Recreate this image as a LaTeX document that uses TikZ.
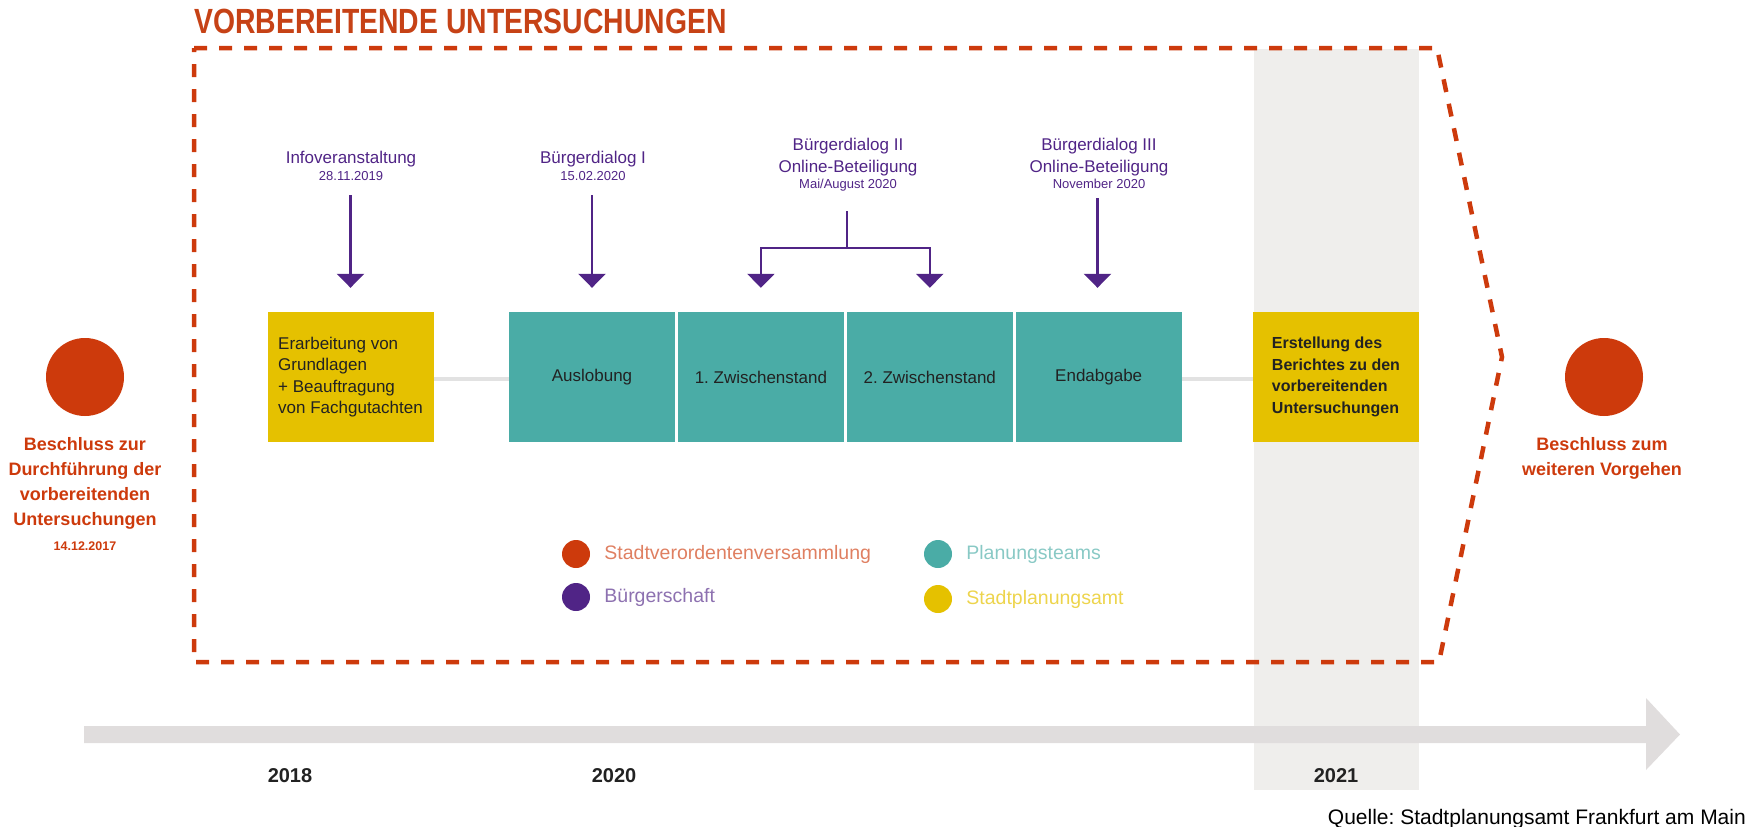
\documentclass[tikz,border=0pt]{standalone}
\usepackage{fontspec}
\setmainfont{Liberation Sans}
\newfontfamily\condfont[FakeStretch=0.81]{Liberation Sans}
\usetikzlibrary{positioning,arrows.meta}
\definecolor{rot}{RGB}{205,58,12}
\definecolor{titel}{RGB}{198,66,22}
\definecolor{lila}{RGB}{80,36,134}
\definecolor{tuerkis}{RGB}{74,172,166}
\definecolor{gelb}{RGB}{229,193,0}
\definecolor{balken}{RGB}{224,221,221}
\definecolor{band}{RGB}{239,238,236}
\definecolor{linie}{RGB}{226,226,226}
\definecolor{ink}{RGB}{34,34,34}
\frenchspacing

\begin{document}
\begin{tikzpicture}[x=1pt,y=-1pt,
  kasten/.style={minimum width=166pt,minimum height=130pt,inner sep=0pt,align=left,text=ink,font=\fontsize{17}{21.5}\selectfont},
  gbox/.style={kasten,fill=gelb},
  tbox/.style={kasten,fill=tuerkis,align=center},
  kreis/.style={circle,fill=rot,minimum size=78pt,inner sep=0pt},
  punkt/.style={circle,minimum size=28pt,inner sep=0pt},
  lab/.style={text=lila,inner sep=0pt,anchor=base,font=\fontsize{17}{20}\selectfont},
  dat/.style={lab,font=\fontsize{13}{15}\selectfont},
  pline/.style={draw=lila,line width=2.5pt},
  parr/.style={pline,-{Triangle[width=27pt,length=14pt]},shorten >=24pt},
  rlab/.style={text=rot,inner sep=0pt,anchor=north,align=center,font=\bfseries\fontsize{18}{25}\selectfont},
  leg/.style={anchor=west,inner sep=0pt,font=\fontsize{19.5}{22}\selectfont},
  jahr/.style={anchor=base,inner sep=0pt,text=ink,font=\bfseries\fontsize{20}{24}\selectfont}]

\useasboundingbox (0,0) rectangle (1746,827);

\fill[band] (1254,49) rectangle (1419,790);
\fill[balken] (84,726) -- (1646,726) -- (1646,698) -- (1680,734.5) -- (1646,770) -- (1646,743) -- (84,743) -- cycle;

\draw[rot,line width=4.5pt,dash pattern=on 13pt off 12pt] (194,48) -- (1437,48) -- (1502,357) -- (1439,662) -- (194,662) -- cycle;
\node[anchor=base west,inner sep=0pt,text=titel,font=\condfont\bfseries\fontsize{35}{40}\selectfont] (titel) at (194,33) {VORBEREITENDE UNTERSUCHUNGEN};

\node[kreis] (start) at (85,377) {};
\node[rlab] (startlab) at (85,437) {Beschluss zur\\Durchführung der\\vorbereitenden\\Untersuchungen\\{\fontsize{12.5}{25}\selectfont 14.12.2017}};

\node[gbox] (grundlagen) at (350.5,377) {Erarbeitung von\\Grundlagen\\+ Beauftragung\\von Fachgutachten};
\node[tbox] (auslobung) at (592,377) {Auslobung};
\node[tbox,right=2.5pt of auslobung] (zw1) {1. Zwischenstand};
\node[tbox,right=2.5pt of zw1] (zw2) {2. Zwischenstand};
\node[tbox,right=2.5pt of zw2] (endabgabe) {Endabgabe};
\node[gbox,font=\bfseries\fontsize{16}{21.5}\selectfont] (bericht) at (1336,377) {Erstellung des\\Berichtes zu den\\vorbereitenden\\Untersuchungen};

\draw[linie,line width=4pt] ([yshift=-2pt]grundlagen.east) -- ([yshift=-2pt]auslobung.west);
\draw[linie,line width=4pt] ([yshift=-2pt]endabgabe.east) -- ([yshift=-2pt]bericht.west);

\node[kreis] (ende) at (1604,377) {};
\node[rlab] (endelab) at (1602,437) {Beschluss zum\\weiteren Vorgehen};

\node[lab] (info) at (351,163) {Infoveranstaltung};
\node[dat] (infodat) at (351,180) {28.11.2019};
\node[lab] (bd1) at (593,163) {Bürgerdialog I};
\node[dat] (bd1dat) at (593,180) {15.02.2020};
\node[lab] (bd2) at (848,150) {Bürgerdialog II};
\node[lab] (bd2on) at (848,172) {Online-Beteiligung};
\node[dat] (bd2dat) at (848,188) {Mai/August 2020};
\node[lab] (bd3) at (1099,150) {Bürgerdialog III};
\node[lab] (bd3on) at (1099,172) {Online-Beteiligung};
\node[dat] (bd3dat) at (1099,188) {November 2020};

\coordinate (p1) at (350.5,195);
\coordinate (p2) at (592,195);
\coordinate (p3) at (847,211);
\coordinate (p3m) at (847,248);
\coordinate (p4) at (1097.5,198);
\draw[parr] (p1) -- (p1 |- grundlagen.north);
\draw[parr] (p2) -- (p2 |- auslobung.north);
\draw[pline] (p3) -- (p3m);
\draw[parr] (p3m) -| (zw1.north);
\draw[parr] (p3m) -| (zw2.north);
\draw[parr] (p4) -- (p4 |- endabgabe.north);

\node[punkt,fill=rot] (lg1) at (576,554) {};
\node[leg,text=rot!65,right=14pt of lg1] (lgt1) {Stadtverordentenversammlung};
\node[punkt,fill=lila] (lg2) at (576,597) {};
\node[leg,text=lila!65,right=14pt of lg2] (lgt2) {Bürgerschaft};
\node[punkt,fill=tuerkis] (lg3) at (938,554) {};
\node[leg,text=tuerkis!65,right=14pt of lg3] (lgt3) {Planungsteams};
\node[punkt,fill=gelb] (lg4) at (938,599) {};
\node[leg,text=gelb!70,right=14pt of lg4] (lgt4) {Stadtplanungsamt};

\node[jahr] (j2018) at (290,782) {2018};
\node[jahr] (j2020) at (614,782) {2020};
\node[jahr] (j2021) at (1336,782) {2021};
\node[anchor=base east,inner sep=0pt,font=\fontsize{21}{24}\selectfont] (quelle) at (1746,824) {Quelle: Stadtplanungsamt Frankfurt am Main};

\end{tikzpicture}
\end{document}
